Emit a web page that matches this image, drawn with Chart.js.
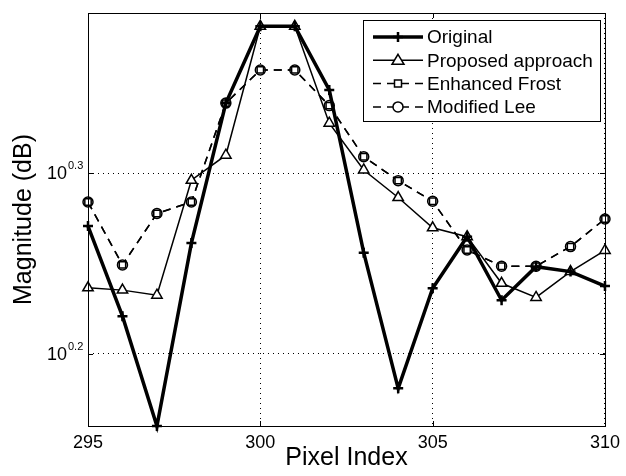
<!DOCTYPE html>
<html>
<head>
<meta charset="utf-8">
<script src="https://cdn.jsdelivr.net/npm/chart.js@4.4.1/dist/chart.umd.min.js"></script>
<style>
  html, body { margin: 0; padding: 0; background: #fff; }
</style>
</head>
<body>
<canvas id="chart" width="626" height="476"></canvas>
<script>
// values (magnitude, log axis)
const pixelIndex = [295, 296, 297, 298, 299, 300, 301, 302, 303, 304, 305, 306, 307, 308, 309, 310];
const original = [1.865, 1.663, 1.446, 1.825, 2.181, 2.405, 2.405, 2.218, 1.803, 1.517, 1.723, 1.840, 1.697, 1.771, 1.760, 1.728];
const proposed = [1.724, 1.719, 1.708, 1.977, 2.041, 2.405, 2.405, 2.126, 2.003, 1.934, 1.861, 1.840, 1.734, 1.703, 1.760, 1.808];
const enhancedFrost = [1.923, 1.775, 1.895, 1.923, 2.181, 2.275, 2.275, 2.174, 2.037, 1.976, 1.925, 1.809, 1.772, 1.772, 1.817, 1.882];
const modifiedLee = [1.923, 1.775, 1.895, 1.923, 2.181, 2.275, 2.275, 2.174, 2.037, 1.976, 1.925, 1.809, 1.772, 1.772, 1.817, 1.882];

const xTicks = [295, 300, 305, 310];
const yTickExponents = ['0.2', '0.3'];
const yMin = 1.446, yMax = 2.446;

const FONT = '"Liberation Sans", Arial, Helvetica, sans-serif';

function toPoints(values) {
  return pixelIndex.map((x, i) => ({ x, y: values[i] }));
}

const legendItems = [
  { label: 'Original', width: 3.5, dash: [], marker: 'cross' },
  { label: 'Proposed approach', width: 1.5, dash: [], marker: 'triangle' },
  { label: 'Enhanced Frost', width: 1.5, dash: [8, 6], marker: 'rect' },
  { label: 'Modified Lee', width: 1.5, dash: [8, 6], marker: 'circle' }
];

function drawMarker(ctx, type, x, y) {
  ctx.save();
  ctx.setLineDash([]);
  ctx.strokeStyle = '#000';
  ctx.fillStyle = '#fff';
  ctx.beginPath();
  if (type === 'cross') {
    ctx.lineWidth = 2.5;
    ctx.moveTo(x - 5, y); ctx.lineTo(x + 5, y);
    ctx.moveTo(x, y - 5); ctx.lineTo(x, y + 5);
    ctx.stroke();
  } else if (type === 'triangle') {
    ctx.lineWidth = 1.5;
    ctx.moveTo(x, y - 6); ctx.lineTo(x + 6, y + 4); ctx.lineTo(x - 6, y + 4); ctx.closePath();
    ctx.fill(); ctx.stroke();
  } else if (type === 'rect') {
    ctx.lineWidth = 1.5;
    ctx.rect(x - 3.5, y - 3.5, 7, 7);
    ctx.fill(); ctx.stroke();
  } else {
    ctx.lineWidth = 1.5;
    ctx.arc(x, y, 5, 0, Math.PI * 2);
    ctx.fill(); ctx.stroke();
  }
  ctx.restore();
}

const decorPlugin = {
  id: 'decor',
  afterDatasetsDraw(chart) {
    const { ctx, chartArea: a, scales } = chart;
    ctx.save();
    // frame
    ctx.strokeStyle = '#000';
    ctx.lineWidth = 1;
    ctx.strokeRect(a.left + 0.5, a.top + 0.5, a.right - a.left, a.bottom - a.top);
    // inward ticks
    ctx.beginPath();
    xTicks.forEach(v => {
      const px = Math.round(scales.x.getPixelForValue(v)) + 0.5;
      ctx.moveTo(px, a.bottom); ctx.lineTo(px, a.bottom - 5);
      ctx.moveTo(px, a.top); ctx.lineTo(px, a.top + 5);
    });
    yTickExponents.forEach(e => {
      const py = Math.round(scales.y.getPixelForValue(Math.pow(10, parseFloat(e)))) + 0.5;
      ctx.moveTo(a.left, py); ctx.lineTo(a.left + 5, py);
      ctx.moveTo(a.right, py); ctx.lineTo(a.right - 5, py);
    });
    ctx.stroke();

    // y tick labels 10^e
    ctx.fillStyle = '#000';
    yTickExponents.forEach(e => {
      const py = scales.y.getPixelForValue(Math.pow(10, parseFloat(e)));
      ctx.font = '18px ' + FONT;
      ctx.textAlign = 'right';
      ctx.textBaseline = 'middle';
      ctx.fillText('10', 67, py + 1);
      ctx.font = '11px ' + FONT;
      ctx.textAlign = 'left';
      ctx.fillText(e, 68, py - 7);
    });

    // axis titles
    ctx.font = '25px ' + FONT;
    ctx.textAlign = 'center';
    ctx.textBaseline = 'middle';
    ctx.fillText('Pixel Index', (a.left + a.right) / 2, 458);
    ctx.save();
    ctx.translate(24, (a.top + a.bottom) / 2);
    ctx.rotate(-Math.PI / 2);
    ctx.fillText('Magnitude (dB)', 0, 0);
    ctx.restore();

    // legend
    const bx = 363, by = 20, bw = 237, bh = 101;
    ctx.fillStyle = '#fff';
    ctx.fillRect(bx, by, bw, bh);
    ctx.strokeStyle = '#000';
    ctx.lineWidth = 1;
    ctx.strokeRect(bx + 0.5, by + 0.5, bw, bh);
    legendItems.forEach((item, i) => {
      const y = 37 + i * 23.3;
      ctx.save();
      ctx.lineWidth = item.width;
      ctx.setLineDash(item.dash);
      ctx.beginPath();
      ctx.moveTo(373, y); ctx.lineTo(423, y);
      ctx.stroke();
      ctx.restore();
      drawMarker(ctx, item.marker, 398, y);
      ctx.fillStyle = '#000';
      ctx.font = '19px ' + FONT;
      ctx.textAlign = 'left';
      ctx.textBaseline = 'middle';
      ctx.fillText(item.label, 427, y + 1);
    });
    ctx.restore();
  }
};

const base = { borderColor: '#000', pointBorderColor: '#000', pointBackgroundColor: '#fff', tension: 0, clip: false, fill: false };

new Chart(document.getElementById('chart'), {
  type: 'line',
  data: {
    datasets: [
      { ...base, label: 'Original', data: toPoints(original), borderWidth: 3.5,
        pointStyle: 'cross', pointRadius: 5, pointBorderWidth: 2.5 },
      { ...base, label: 'Proposed approach', data: toPoints(proposed), borderWidth: 1.5,
        pointStyle: 'triangle', pointRadius: 6, pointBorderWidth: 1.5 },
      { ...base, label: 'Enhanced Frost', data: toPoints(enhancedFrost), borderWidth: 1.5, borderDash: [8, 6],
        pointStyle: 'rect', pointRadius: 4.5, pointBorderWidth: 1.5 },
      { ...base, label: 'Modified Lee', data: toPoints(modifiedLee), borderWidth: 1.5, borderDash: [8, 6],
        pointStyle: 'circle', pointRadius: 5, pointBorderWidth: 1.5 }
    ]
  },
  options: {
    responsive: false,
    animation: false,
    devicePixelRatio: 1,
    layout: { padding: { top: 13, right: 16, left: 0, bottom: 0 } },
    plugins: { legend: { display: false }, tooltip: { enabled: false } },
    scales: {
      x: {
        type: 'linear', min: 295, max: 310,
        afterBuildTicks: s => { s.ticks = xTicks.map(v => ({ value: v })); },
        afterFit: s => { s.height = 50; },
        grid: { color: '#000', lineWidth: 1, drawTicks: false },
        border: { display: false, dash: [1, 4] },
        ticks: { color: '#000', font: { family: FONT, size: 18 }, padding: 6, maxRotation: 0 }
      },
      y: {
        type: 'logarithmic', min: yMin, max: yMax,
        afterBuildTicks: s => { s.ticks = yTickExponents.map(e => ({ value: Math.pow(10, parseFloat(e)) })); },
        afterFit: s => { s.width = 88; },
        grid: { color: '#000', lineWidth: 1, drawTicks: false },
        border: { display: false, dash: [1, 4] },
        ticks: { display: false }
      }
    }
  },
  plugins: [decorPlugin]
});
</script>
</body>
</html>
